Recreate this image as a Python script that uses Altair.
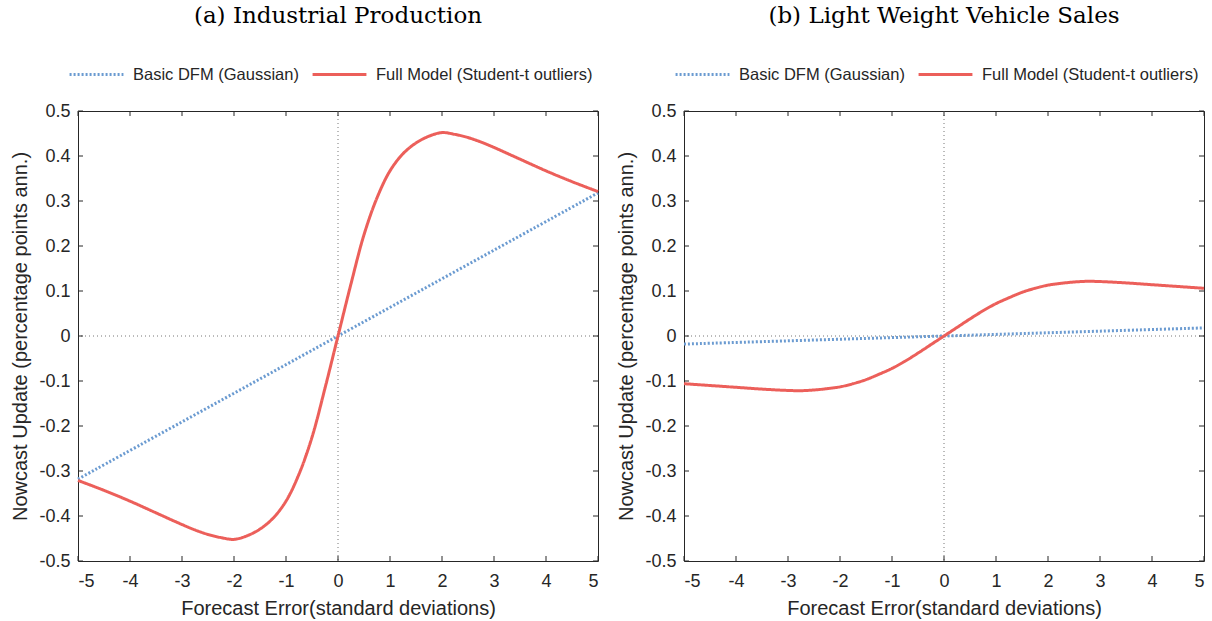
import altair as alt
import pandas as pd

# ---- data ----
series_names = ["Basic DFM (Gaussian)", "Full Model (Student-t outliers)"]
series_colors = ["#6B9BD1", "#EC5F5A"]

x_ticks = [-5, -4, -3, -2, -1, 0, 1, 2, 3, 4, 5]
y_ticks = [-0.5, -0.4, -0.3, -0.2, -0.1, 0, 0.1, 0.2, 0.3, 0.4, 0.5]

grid_x = [-5, -4.5, -4, -3.5, -3, -2.75, -2.5, -2.25, -2, -1.75, -1.5, -1.25, -1, -0.75, -0.5, -0.25,
          0, 0.25, 0.5, 0.75, 1, 1.25, 1.5, 1.75, 2, 2.25, 2.5, 2.75, 3, 3.5, 4, 4.5, 5]

# Panel (a) Industrial Production
a_full = [-0.321, -0.343, -0.367, -0.393, -0.419, -0.431, -0.441, -0.448, -0.452, -0.444, -0.429,
          -0.405, -0.367, -0.307, -0.225, -0.116,
          0.0, 0.116, 0.225, 0.307, 0.367, 0.405, 0.429, 0.444, 0.452, 0.448, 0.441, 0.431,
          0.419, 0.393, 0.367, 0.343, 0.321]
a_basic_x = [-5, 0, 5]
a_basic = [-0.318, 0.0, 0.318]

# Panel (b) Light Weight Vehicle Sales
b_full = [-0.106, -0.110, -0.114, -0.118, -0.121, -0.1215, -0.120, -0.117, -0.113, -0.106, -0.097,
          -0.085, -0.072, -0.056, -0.038, -0.019,
          0.0, 0.019, 0.038, 0.056, 0.072, 0.085, 0.097, 0.106, 0.113, 0.117, 0.120, 0.1215,
          0.121, 0.118, 0.114, 0.110, 0.106]
b_basic_x = [-5, 0, 5]
b_basic = [-0.018, 0.0, 0.018]

W, H = 520, 450
TXT = "#262626"
SANS = "Liberation Sans"


def panel(title, full_y, basic_x, basic_y):
    df = pd.DataFrame({
        "x": list(basic_x) + list(grid_x),
        "y": list(basic_y) + list(full_y),
        "series": [series_names[0]] * len(basic_x) + [series_names[1]] * len(grid_x),
    })
    xscale = alt.Scale(domain=[-5, 5], nice=False, zero=False)
    yscale = alt.Scale(domain=[-0.5, 0.5], nice=False, zero=False)
    leg = alt.Legend(title=None, orient="none", direction="horizontal",
                     legendX=-10, legendY=-65, symbolType="stroke", symbolSize=2900,
                     symbolStrokeWidth=3, labelFont=SANS, labelFontSize=16.5, labelLimit=400,
                     labelColor=TXT, labelOffset=8, columnPadding=7)
    x_axis = alt.Axis(values=x_ticks, ticks=False, domain=False, grid=False,
                      labelExpr="toString(datum.value)", labelFont=SANS, labelFontSize=18,
                      labelColor=TXT, labelPadding=11, title="Forecast Error(standard deviations)",
                      titleFont=SANS, titleFontSize=20, titleFontWeight="normal",
                      titleColor=TXT, titlePadding=8)
    y_axis = alt.Axis(values=y_ticks, ticks=False, domain=False, grid=False,
                      labelExpr="datum.value == 0 ? '0' : toString(round(datum.value * 10) / 10)",
                      labelFont=SANS, labelFontSize=18, labelColor=TXT, labelPadding=8,
                      title="Nowcast Update (percentage points ann.)", titleFont=SANS,
                      titleFontSize=20, titleFontWeight="normal", titleColor=TXT,
                      titlePadding=8)

    X = alt.X("x:Q", scale=xscale, axis=x_axis)
    Y = alt.Y("y:Q", scale=yscale, axis=y_axis)

    zero_h = alt.Chart(pd.DataFrame({"y": [0]})).mark_rule(
        color="#777777", strokeWidth=1, strokeDash=[1, 3]).encode(y=Y)
    zero_v = alt.Chart(pd.DataFrame({"x": [0]})).mark_rule(
        color="#777777", strokeWidth=1, strokeDash=[1, 3]).encode(x=X)

    lines = alt.Chart(df).mark_line(strokeWidth=3, interpolate="catmull-rom", strokeCap="butt").encode(
        x=X,
        y=Y,
        color=alt.Color("series:N", scale=alt.Scale(domain=series_names, range=series_colors), legend=leg),
        strokeDash=alt.StrokeDash("series:N", scale=alt.Scale(domain=series_names, range=[[2, 2], [1, 0]]), legend=leg),
        order=alt.Order("x:Q"),
    )

    xt = pd.DataFrame({"x": x_ticks})
    yt = pd.DataFrame({"y": y_ticks})
    tick_bottom = alt.Chart(xt).mark_rule(color=TXT, strokeWidth=1).encode(
        x=X, y=alt.value(H - 5), y2=alt.value(H))
    tick_top = alt.Chart(xt).mark_rule(color=TXT, strokeWidth=1).encode(
        x=X, y=alt.value(0), y2=alt.value(5))
    tick_left = alt.Chart(yt).mark_rule(color=TXT, strokeWidth=1).encode(
        y=Y, x=alt.value(0), x2=alt.value(5))
    tick_right = alt.Chart(yt).mark_rule(color=TXT, strokeWidth=1).encode(
        y=Y, x=alt.value(W - 5), x2=alt.value(W))

    return alt.layer(zero_h, zero_v, lines, tick_bottom, tick_top, tick_left, tick_right).properties(
        width=W, height=H,
        title=alt.TitleParams(title, font="DejaVu Serif", fontSize=23, fontWeight="normal",
                              color="#000000", anchor="middle", offset=18),
    )


pa = panel("(a) Industrial Production", a_full, a_basic_x, a_basic)
pb = panel("(b) Light Weight Vehicle Sales", b_full, b_basic_x, b_basic)

chart = alt.hconcat(pa, pb, spacing=11).resolve_scale(
    color="independent", strokeDash="independent"
).resolve_legend(
    color="independent", strokeDash="independent"
).configure(
    padding={"left": 10, "top": 4, "right": 0, "bottom": 0},
    background="white",
).configure_view(
    stroke=TXT, strokeWidth=1
)

chart.save("out.html", embed_options={"renderer": "svg", "actions": False})
